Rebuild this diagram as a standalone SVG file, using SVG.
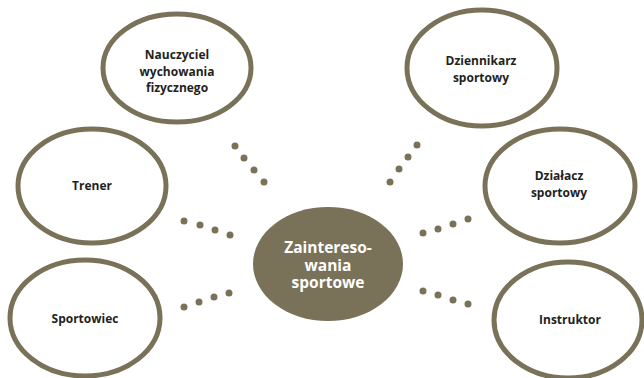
<svg xmlns="http://www.w3.org/2000/svg" width="644" height="378" viewBox="0 0 644 378">
<style>
.n{fill:#fff;stroke:#797259;stroke-width:5}
.c{fill:#797259}
.t{font-family:"Open Sans","Liberation Sans",sans-serif;font-weight:bold;font-size:12px;fill:#231f20;text-anchor:middle}
.ct{font-family:"Open Sans","Liberation Sans",sans-serif;font-weight:bold;font-size:15.5px;fill:#fff;text-anchor:middle}
.d{fill:#797259}
</style>
<rect width="644" height="378" fill="#fff"/>
<g id="connectors">
<circle class="d" cx="235" cy="146" r="3.5"/><circle class="d" cx="244" cy="158" r="3.5"/><circle class="d" cx="254" cy="170" r="3.5"/><circle class="d" cx="264" cy="182" r="3.5"/>
<circle class="d" cx="417" cy="145" r="3.5"/><circle class="d" cx="408" cy="157" r="3.5"/><circle class="d" cx="399" cy="169" r="3.5"/><circle class="d" cx="390" cy="182" r="3.5"/>
<circle class="d" cx="184" cy="221" r="3.5"/><circle class="d" cx="200" cy="225" r="3.5"/><circle class="d" cx="215" cy="230" r="3.5"/><circle class="d" cx="230" cy="235" r="3.5"/>
<circle class="d" cx="184" cy="307" r="3.5"/><circle class="d" cx="199" cy="302" r="3.5"/><circle class="d" cx="214" cy="297" r="3.5"/><circle class="d" cx="229" cy="293" r="3.5"/>
<circle class="d" cx="423" cy="233" r="3.5"/><circle class="d" cx="438" cy="229" r="3.5"/><circle class="d" cx="453" cy="224" r="3.5"/><circle class="d" cx="468" cy="219" r="3.5"/>
<circle class="d" cx="423" cy="291" r="3.5"/><circle class="d" cx="438" cy="295" r="3.5"/><circle class="d" cx="453" cy="300" r="3.5"/><circle class="d" cx="468" cy="304" r="3.5"/>
</g>
<g id="center">
<ellipse class="c" cx="328" cy="264" rx="75" ry="57"/>
<text class="ct" x="328" y="253">Zaintereso-</text>
<text class="ct" x="328" y="271">wania</text>
<text class="ct" x="328" y="288">sportowe</text>
</g>
<g id="nauczyciel">
<ellipse class="n" cx="177" cy="68" rx="74" ry="54"/>
<text class="t" x="177" y="59">Nauczyciel</text>
<text class="t" x="177" y="76">wychowania</text>
<text class="t" x="177" y="92">fizycznego</text>
</g>
<g id="trener">
<ellipse class="n" cx="92" cy="186" rx="74" ry="57"/>
<text class="t" x="92" y="190">Trener</text>
</g>
<g id="sportowiec">
<ellipse class="n" cx="85" cy="318" rx="75" ry="58"/>
<text class="t" x="85" y="323">Sportowiec</text>
</g>
<g id="dziennikarz">
<ellipse class="n" cx="482" cy="68" rx="75" ry="58"/>
<text class="t" x="481" y="65">Dziennikarz</text>
<text class="t" x="481" y="82">sportowy</text>
</g>
<g id="dzialacz">
<ellipse class="n" cx="560" cy="186" rx="75" ry="57"/>
<text class="t" x="559" y="180">Działacz</text>
<text class="t" x="559" y="197">sportowy</text>
</g>
<g id="instruktor">
<ellipse class="n" cx="568" cy="320" rx="74" ry="58"/>
<text class="t" x="570" y="324">Instruktor</text>
</g>
</svg>
